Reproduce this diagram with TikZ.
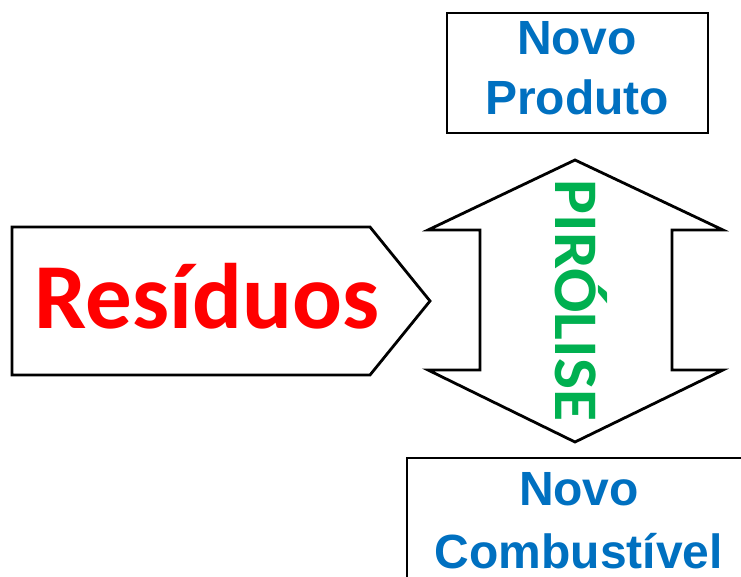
\documentclass[tikz,border=0pt]{standalone}
\usepackage{fontspec}
\newfontfamily\calfont{Carlito}
\newfontfamily\arfont{Liberation Sans}
\definecolor{resred}{RGB}{255,0,0}
\definecolor{novoblue}{RGB}{0,112,192}
\definecolor{pirgreen}{RGB}{0,176,80}
\tikzset{
  shapeline/.style={draw=black, line width=2.8pt, line join=miter, fill=white},
  bluetext/.style={inner sep=0pt, text=novoblue, font=\arfont\bfseries\fontsize{48}{48}\selectfont, anchor=base},
}
\begin{document}
\begin{tikzpicture}[x=1pt,y=-1pt]
\useasboundingbox (0,0) rectangle (741,577);
\clip (0,0) rectangle (741,577);
% Residuos pentagon
\draw[shapeline] (12,227) -- (370,227) -- (430,301) -- (370,375) -- (12,375) -- cycle;
\node[inner sep=0pt, anchor=base, text=resred, font=\calfont\bfseries\fontsize{93}{93}\selectfont] (res) at (207,328) {Resíduos};
% double arrow
\draw[shapeline] (575,160) -- (723,230) -- (672,230) -- (672,370) -- (723,370) -- (575,442)
  -- (428,370) -- (480,370) -- (480,230) -- (428,230) -- cycle;
\node[inner sep=0pt, rotate=-90, anchor=base, text=pirgreen, font=\calfont\bfseries\fontsize{62}{62}\selectfont] (pir) at (555,300.5) {\scalebox{1.06}[1]{PIRÓLISE}};
% Novo Produto
\draw[shapeline] (447,13) rectangle (708,133);
\node[bluetext] (np1) at (577,55) {Novo};
\node[bluetext] (np2) at (577,115) {Produto};
% Novo Combustivel
\draw[shapeline] (407,458) rectangle (760,600);
\node[bluetext] (nc1) at (579,505) {Novo};
\node[bluetext] (nc2) at (579,568) {Combustível};
\end{tikzpicture}
\end{document}
